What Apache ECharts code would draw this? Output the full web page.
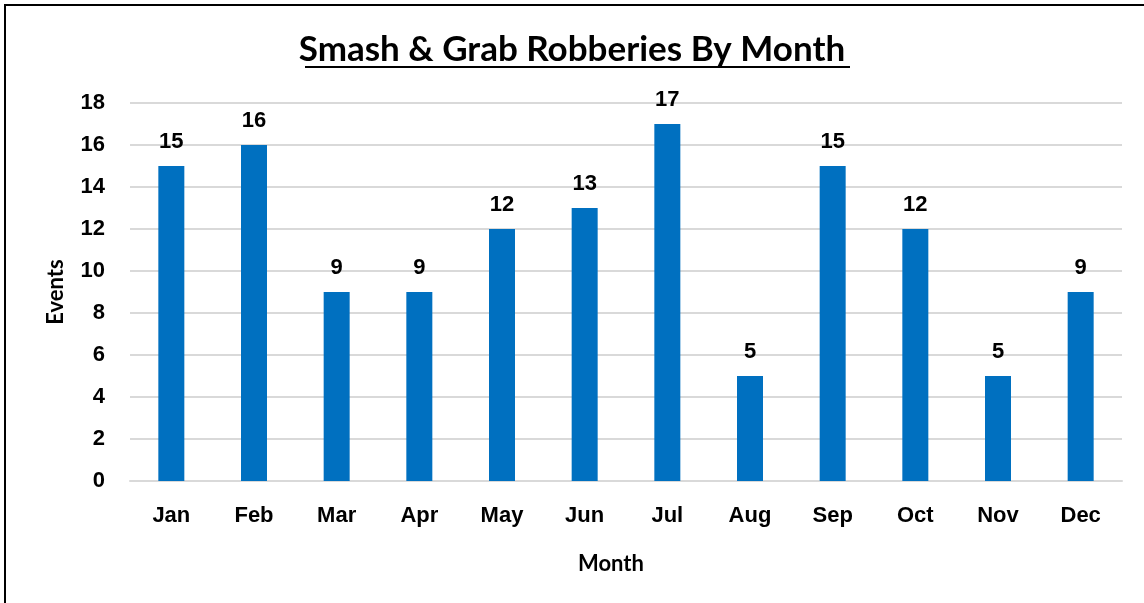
<html>
  <head>
    <meta charset="utf-8" />
    <title>Smash & Grab Robberies By Month</title>
    <script type="text/javascript" src="https://cdn.jsdelivr.net/npm/echarts@6/dist/echarts.min.js"></script>
    <style>
      html, body { margin: 0; background: #fff; overflow: hidden; }
      #main { position: absolute; left: 0; top: 0; width: 1144px; height: 603px; }
    </style>
  </head>
  <body>
      <div id="main"></div>
      <script type="text/javascript">
        var months = ['Jan', 'Feb', 'Mar', 'Apr', 'May', 'Jun', 'Jul', 'Aug', 'Sep', 'Oct', 'Nov', 'Dec'];
        var events = [15, 16, 9, 9, 12, 13, 17, 5, 15, 12, 5, 9];
        var yTicks = { min: 0, max: 18, step: 2 };

        window.onload = function () {
            var myChart = echarts.init(document.getElementById('main'), null, { renderer: 'canvas' });
            var labelFont = '"Liberation Sans", Arial, sans-serif';
            var titleFont = 'Lato, "Open Sans", sans-serif';

            var option = {
              backgroundColor: '#fff',
              animation: false,
              title: {
                  text: 'Smash & Grab Robberies By Month',
                  left: 'center',
                  top: 27,
                  textStyle: {
                      fontFamily: titleFont,
                      fontWeight: 'bold',
                      fontSize: 35,
                      color: '#000'
                  }
              },
              graphic: [
                // title underline
                {
                  type: 'rect',
                  shape: { x: 305, y: 66, width: 545, height: 2 },
                  style: { fill: '#000' }
                },
                // frame (top and left edges only are in view)
                {
                  type: 'rect',
                  shape: { x: 4, y: 4, width: 1140, height: 2 },
                  style: { fill: '#000' }
                },
                {
                  type: 'rect',
                  shape: { x: 4, y: 4, width: 2, height: 599 },
                  style: { fill: '#000' }
                }
              ],
              grid: {
                  left: 130,
                  right: 22,
                  top: 103,
                  bottom: 122,
                  containLabel: false
              },
              xAxis: {
                  type: 'category',
                  data: months,
                  name: 'Month',
                  nameLocation: 'middle',
                  nameGap: 72,
                  nameTextStyle: {
                      fontFamily: titleFont,
                      fontWeight: 'bold',
                      fontSize: 22,
                      color: '#000',
                      padding: [0, 30, 0, 0]
                  },
                  axisLine: { lineStyle: { color: '#d9d9d9', width: 2 } },
                  axisTick: { show: false },
                  axisLabel: {
                      margin: 24,
                      fontFamily: labelFont,
                      fontWeight: 'bold',
                      fontSize: 22,
                      color: '#000'
                  }
              },
              yAxis: {
                  type: 'value',
                  min: yTicks.min,
                  max: yTicks.max,
                  interval: yTicks.step,
                  name: 'Events',
                  nameLocation: 'middle',
                  nameGap: 63,
                  nameRotate: 90,
                  nameTextStyle: {
                      fontFamily: titleFont,
                      fontWeight: 'bold',
                      fontSize: 22,
                      color: '#000'
                  },
                  axisLine: { show: false },
                  axisTick: { show: false },
                  splitLine: { lineStyle: { color: '#d9d9d9', width: 2 } },
                  axisLabel: {
                      margin: 25,
                      fontFamily: labelFont,
                      fontWeight: 'bold',
                      fontSize: 22,
                      color: '#000'
                  }
              },
              series: [
                {
                  name: 'Events',
                  type: 'bar',
                  data: events,
                  barWidth: 26,
                  itemStyle: { color: '#0070C0' },
                  label: {
                      show: true,
                      position: 'top',
                      distance: 13,
                      fontFamily: labelFont,
                      fontWeight: 'bold',
                      fontSize: 22,
                      color: '#000'
                  }
                }
              ]
            };
            myChart.setOption(option);
        };
      </script>
  </body>
</html>
